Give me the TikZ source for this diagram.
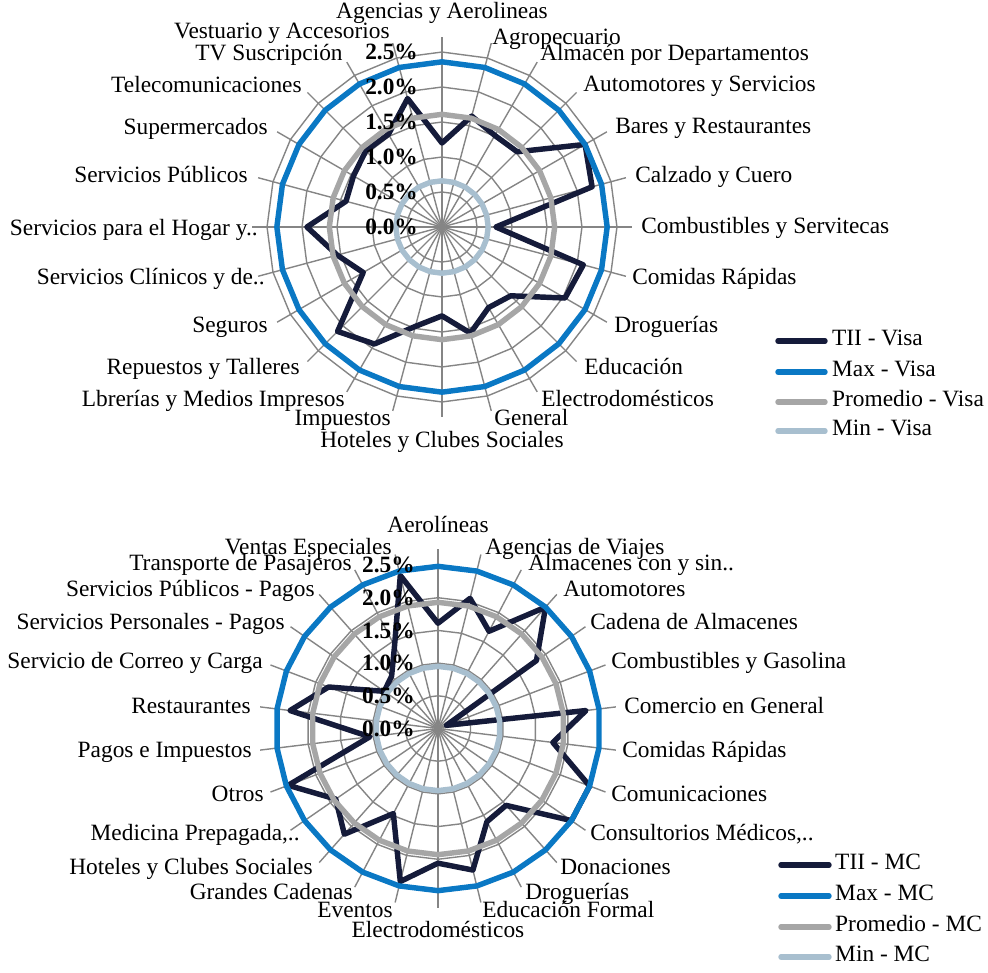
\documentclass[tikz,border=0pt]{standalone}
\usepackage{fontspec}
\setmainfont{Liberation Serif}
\usepackage{xcolor}
\definecolor{tiiblue}{HTML}{151B3A}
\definecolor{maxblue}{HTML}{0A78C4}
\definecolor{promgray}{HTML}{A6A6A6}
\definecolor{minblue}{HTML}{A8BFCF}
\definecolor{gridgray}{HTML}{858585}
\begin{document}
\begin{tikzpicture}[x=0.02cm,y=-0.02cm,
	every node/.style={inner sep=0pt,font=\fontsize{13.3}{15}\selectfont},
	vlab/.style={anchor=east,font=\fontsize{13.3}{15}\selectfont\bfseries},
	ringline/.style={gridgray,line width=0.8pt},
	serie/.style={line width=3.1pt,line join=round,line cap=round},
	tiiline/.style={serie,tiiblue},maxline/.style={serie,maxblue},
	promline/.style={serie,promgray},minline/.style={serie,minblue}]
	\useasboundingbox (0,0) rectangle (988,973);
	% Visa
	\begin{scope}[shift={(442,227)},x=1.4cm,y=1.4cm]
	\foreach \i in {0,...,23} \draw[ringline] (0,0)--({90-15*\i}:2.72);
	\foreach \r in {0.5,1,1.5,2,2.5} \draw[ringline] (90:\r) \foreach \i in {1,...,23} {--({90-15*\i}:\r)}--cycle;
	\draw[tiiline] (90:1.20) \foreach \v [count=\i] in {1.64,1.51,1.52,2.36,2.22,0.77,2.09,2.03,1.39,1.33,1.57,1.27,1.47,1.93,2.11,1.30,1.55,1.93,1.42,1.46,1.54,1.53,1.90} {--({90-15*\i}:\v)}--cycle;
	\foreach \r/\s in {2.36/maxline,1.61/promline,0.66/minline} \draw[\s] (90:\r) \foreach \i in {1,...,23} {--({90-15*\i}:\r)}--cycle;
	\foreach \v [count=\k] in {0.0,0.5,1.0,1.5,2.0,2.5} \node[vlab] (vtick\k) at (-0.34,\v) {\v\%};
	\end{scope}
	\node[anchor=mid] (v-agencias) at (442,14) {Agencias y Aerolineas};
	\node[anchor=mid west] (v-agro) at (492,40) {Agropecuario};
	\node[anchor=mid west] (v-almacen) at (540,56) {Almacén por Departamentos};
	\node[anchor=mid west] (v-automotores) at (583,87) {Automotores y Servicios};
	\node[anchor=mid west] (v-bares) at (615,129) {Bares y Restaurantes};
	\node[anchor=mid west] (v-calzado) at (635,178) {Calzado y Cuero};
	\node[anchor=mid west] (v-combustibles) at (641,229) {Combustibles y Servitecas};
	\node[anchor=mid west] (v-comidas) at (632,280) {Comidas Rápidas};
	\node[anchor=mid west] (v-droguerias) at (614,328) {Droguerías};
	\node[anchor=mid west] (v-educacion) at (584,370) {Educación};
	\node[anchor=mid west] (v-electro) at (541,402) {Electrodomésticos};
	\node[anchor=mid west] (v-general) at (494,421) {General};
	\node[anchor=mid] (v-hoteles) at (442,443) {Hoteles y Clubes Sociales};
	\node[anchor=mid east] (v-impuestos) at (391,421) {Impuestos};
	\node[anchor=mid east] (v-librerias) at (345,402) {Lbrerías y Medios Impresos};
	\node[anchor=mid east] (v-repuestos) at (300,370) {Repuestos y Talleres};
	\node[anchor=mid east] (v-seguros) at (268,328) {Seguros};
	\node[anchor=mid east] (v-clinicos) at (265,280) {Servicios Clínicos y de..};
	\node[anchor=mid east] (v-hogar) at (258,231) {Servicios para el Hogar y..};
	\node[anchor=mid east] (v-publicos) at (248,178) {Servicios Públicos};
	\node[anchor=mid east] (v-super) at (268,130) {Supermercados};
	\node[anchor=mid east] (v-telecom) at (302,88) {Telecomunicaciones};
	\node[anchor=mid east] (v-tv) at (343,56) {TV Suscripción};
	\node[anchor=mid east] (v-vestuario) at (390,34) {Vestuario y Accesorios};
	\draw[tiiline] (778,341)--(825,341) node[anchor=mid west,xshift=2.5pt,text=black] (v-leg1) {TII - Visa};
	\draw[maxline] (778,372)--(825,372) node[anchor=mid west,xshift=2.5pt,text=black] (v-leg2) {Max - Visa};
	\draw[promline] (778,402)--(825,402) node[anchor=mid west,xshift=2.5pt,text=black] (v-leg3) {Promedio - Visa};
	\draw[minline] (778,431)--(825,431) node[anchor=mid west,xshift=2.5pt,text=black] (v-leg4) {Min - Visa};
	% MC
	\begin{scope}[shift={(438,728.5)},x=1.308cm,y=1.308cm]
	\foreach \i in {0,...,25} \draw[ringline] (0,0)--({90-360/26*\i}:2.74);
	\foreach \r in {0.5,1,1.5,2,2.5} \draw[ringline] (90:\r) \foreach \i in {1,...,25} {--({90-360/26*\i}:\r)}--cycle;
	\draw[tiiline] (90:1.61) \foreach \v [count=\i] in {2.05,1.68,2.48,1.83,0.14,2.28,1.77,2.48,2.48,1.57,1.61,2.23,2.06,2.41,1.47,2.16,1.90,2.45,1.05,2.28,1.79,1.00,1.07,1.43,2.41} {--({90-360/26*\i}:\v)}--cycle;
	\foreach \r/\s in {2.48/maxline,1.93/promline,0.95/minline} \draw[\s] (90:\r) \foreach \i in {1,...,25} {--({90-360/26*\i}:\r)}--cycle;
	\foreach \v [count=\k] in {0.0,0.5,1.0,1.5,2.0,2.5} \node[vlab] (mtick\k) at (-0.35,\v) {\v\%};
	\end{scope}
	\node[anchor=mid] (m-aerolineas) at (438,528) {Aerolíneas};
	\node[anchor=mid west] (m-agencias) at (485,550) {Agencias de Viajes};
	\node[anchor=mid west] (m-almacenes) at (528,566) {Almacenes con y sin..};
	\node[anchor=mid west] (m-automotores) at (563,592) {Automotores};
	\node[anchor=mid west] (m-cadena) at (590,625) {Cadena de Almacenes};
	\node[anchor=mid west] (m-combustibles) at (611,664) {Combustibles y Gasolina};
	\node[anchor=mid west] (m-comercio) at (624,709) {Comercio en General};
	\node[anchor=mid west] (m-comidas) at (622,753) {Comidas Rápidas};
	\node[anchor=mid west] (m-comunicaciones) at (611,797) {Comunicaciones};
	\node[anchor=mid west] (m-consultorios) at (590,836) {Consultorios Médicos,..};
	\node[anchor=mid west] (m-donaciones) at (560,870) {Donaciones};
	\node[anchor=mid west] (m-droguerias) at (525,895) {Droguerías};
	\node[anchor=mid west] (m-educacion) at (482,913) {Educación Formal};
	\node[anchor=mid] (m-electro) at (438,933) {Electrodomésticos};
	\node[anchor=mid east] (m-eventos) at (393,913) {Eventos};
	\node[anchor=mid east] (m-grandes) at (353,895) {Grandes Cadenas};
	\node[anchor=mid east] (m-hoteles) at (313,870) {Hoteles y Clubes Sociales};
	\node[anchor=mid east] (m-medicina) at (300,836) {Medicina Prepagada,..};
	\node[anchor=mid east] (m-otros) at (264,797) {Otros};
	\node[anchor=mid east] (m-pagos) at (252,753) {Pagos e Impuestos};
	\node[anchor=mid east] (m-restaurantes) at (251,709) {Restaurantes};
	\node[anchor=mid east] (m-correo) at (263,664) {Servicio de Correo y Carga};
	\node[anchor=mid east] (m-personales) at (285,625) {Servicios Personales - Pagos};
	\node[anchor=mid east] (m-publicos) at (315,592) {Servicios Públicos - Pagos};
	\node[anchor=mid east] (m-transporte) at (352,566) {Transporte de Pasajeros};
	\node[anchor=mid east] (m-ventas) at (392,550) {Ventas Especiales};
	\draw[tiiline] (781,865)--(829,865) node[anchor=mid west,xshift=2pt,text=black] (m-leg1) {TII - MC};
	\draw[maxline] (781,896)--(829,896) node[anchor=mid west,xshift=2pt,text=black] (m-leg2) {Max - MC};
	\draw[promline] (781,927)--(829,927) node[anchor=mid west,xshift=2pt,text=black] (m-leg3) {Promedio - MC};
	\draw[minline] (781,957)--(829,957) node[anchor=mid west,xshift=2pt,text=black] (m-leg4) {Min - MC};
\end{tikzpicture}
\end{document}
